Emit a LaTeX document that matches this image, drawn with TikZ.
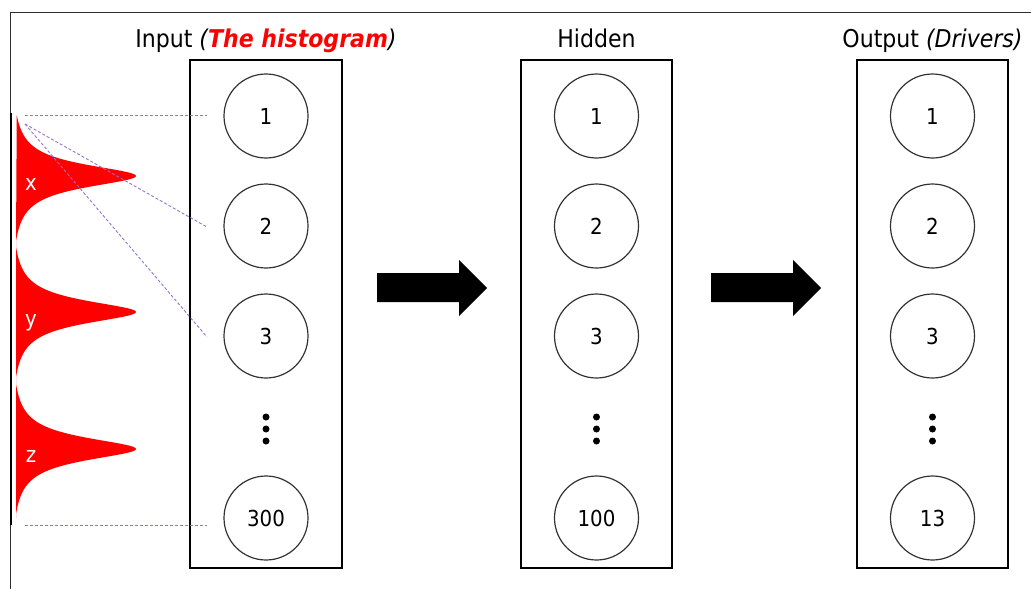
\documentclass[tikz,border=0pt]{standalone}
\usepackage{fontspec}
\setmainfont{DejaVu Sans Condensed}
\usetikzlibrary{calc}
\definecolor{dashpurple}{RGB}{150,115,205}
\definecolor{framegray}{RGB}{45,45,45}
\definecolor{circgray}{RGB}{50,50,50}
\begin{document}
\begin{tikzpicture}[x=1pt,y=-1pt,
  layerbox/.style={draw=black,line width=1.4pt,minimum width=152pt,minimum height=508pt,inner sep=0pt},
  neuron/.style={circle,draw=circgray,line width=1.2pt,minimum size=84pt,inner sep=0pt,font=\fontsize{22}{26}\selectfont},
  title/.style={anchor=base,inner sep=0pt,font=\fontsize{24.5}{30}\selectfont},
  guide/.style={draw=dashpurple,dash pattern=on 3pt off 2pt,line width=0.9pt},
  bigarrow/.style={fill=black},
  dotstyle/.style={circle,fill=black,inner sep=0pt,minimum size=7pt},
  hlabel/.style={text=white,anchor=base,inner sep=0pt,font=\fontsize{22}{26}\selectfont}]
\useasboundingbox (0,0) rectangle (1031,589);

% frame
\draw[framegray,line width=1pt] (10,589) -- (10,12) -- (1031,12);

% histogram lobes
\foreach \m/\a/\b in {176/-61/69, 312/-67/70, 449/-67/69}{
  \fill[red] plot[domain=\a:\b,samples=150,variable=\t]
    ({16+120*max(0,(1/(1+(\t/14)*(\t/14))-0.044)/0.956)},{\m+\t}) -- cycle;
}
\draw[black,line width=2pt] (10.5,113) -- (10.5,525);
\node[hlabel] (lx) at (31,190) {x};
\node[hlabel] (ly) at (31,326) {y};
\node[hlabel] (lz) at (31,462) {z};

% layer boxes
\node[layerbox] (inbox) at (266,314) {};
\node[layerbox,minimum width=151pt] (hidbox) at (596.5,314) {};
\node[layerbox,minimum width=151pt] (outbox) at (932.5,314) {};

% titles
\node[title] (tin) at (266,47) {Input \textit{(\textcolor{red}{\textbf{The histogram}})}};
\node[title] (thid) at (596.5,47) {Hidden};
\node[title] (tout) at (932.5,47) {Output \textit{(Drivers)}};

% neurons
\foreach \n/\x/\last in {in/266/300, hid/596.5/100, out/932.5/13}{
  \node[neuron] (\n1) at (\x,116) {1};
  \node[neuron] (\n2) at (\x,226) {2};
  \node[neuron] (\n3) at (\x,336) {3};
  \node[neuron] (\n4) at (\x,518) {\last};
  \node[dotstyle] (\n d1) at (\x,417) {};
  \node[dotstyle] (\n d2) at (\x,429) {};
  \node[dotstyle] (\n d3) at (\x,441) {};
}

% guide lines
\coordinate (g1) at (25,115);
\coordinate (g2) at (25,124);
\coordinate (g3) at (25,525);
\coordinate (e1) at (207,115);
\coordinate (e2) at (207,227);
\coordinate (e3) at (207,337);
\coordinate (e4) at (207,525);
\draw[guide] (g1) -- (e1);
\draw[guide] (g2) -- (e2);
\draw[guide] (g2) -- (e3);
\draw[guide] (g3) -- (e4);

% block arrows
\foreach \s in {377,711}{
  \fill[bigarrow] (\s,273) -- ++(82,0) -- ++(0,-13) -- ++(28,28) -- ++(-28,28) -- ++(0,-14) -- ++(-82,0) -- cycle;
}
\end{tikzpicture}
\end{document}
